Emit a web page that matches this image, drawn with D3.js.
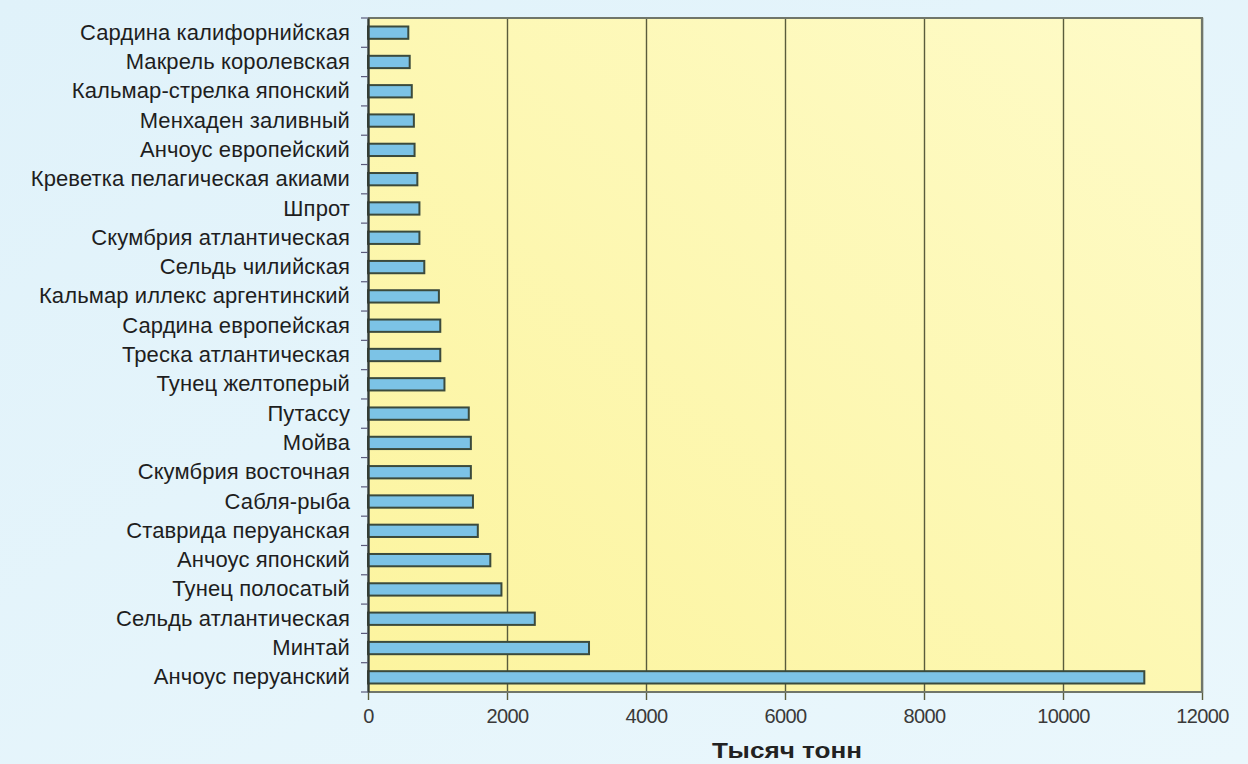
<!DOCTYPE html>
<html><head><meta charset="utf-8">
<script src="https://cdn.jsdelivr.net/npm/d3@7"></script>
<style>
html,body{margin:0;padding:0;background:#e6f5fc;}
svg{display:block;}
</style></head>
<body>
<svg id="chart" width="1248" height="764"></svg>
<script>
const categories = [
  "Сардина калифорнийская","Макрель королевская","Кальмар-стрелка японский","Менхаден заливный",
  "Анчоус европейский","Креветка пелагическая акиами","Шпрот","Скумбрия атлантическая",
  "Сельдь чилийская","Кальмар иллекс аргентинский","Сардина европейская","Треска атлантическая",
  "Тунец желтоперый","Путассу","Мойва","Скумбрия восточная","Сабля-рыба","Ставрида перуанская",
  "Анчоус японский","Тунец полосатый","Сельдь атлантическая","Минтай","Анчоус перуанский"
];
const values = [580,600,630,660,670,710,740,740,810,1020,1040,1040,1100,1450,1480,1480,1510,1580,1760,1920,2400,3180,11170];
const xTicks = [0,2000,4000,6000,8000,10000,12000];
const xTitle = "Тысяч тонн";

const svg = d3.select("#chart");
const W = 1248, H = 764;
const m = {left:368, right:1202, top:18, bottom:692};
const FONT = "Liberation Sans, Arial, sans-serif";

const defs = svg.append("defs");
const bg = defs.append("linearGradient").attr("id","bg").attr("x1","0").attr("y1","0").attr("x2","1").attr("y2","1");
bg.append("stop").attr("offset","0%").attr("stop-color","#e0f2fa");
bg.append("stop").attr("offset","100%").attr("stop-color","#eaf7fc");
svg.append("rect").attr("width",W).attr("height",H).attr("fill","url(#bg)");
const pg = defs.append("linearGradient").attr("id","pg").attr("x1","0").attr("y1","1").attr("x2","1").attr("y2","0");
pg.append("stop").attr("offset","0%").attr("stop-color","#fcf49e");
pg.append("stop").attr("offset","100%").attr("stop-color","#fefbc8");

const x = d3.scaleLinear().domain([0,12000]).range([m.left,m.right]);
const y = d3.scaleBand().domain(categories).range([m.top,m.bottom]).paddingInner(0.58).paddingOuter(0.29);
const yb = d3.scaleBand().domain(categories).range([m.top,m.bottom]);

svg.append("rect").attr("x",m.left).attr("y",m.top).attr("width",m.right-m.left).attr("height",m.bottom-m.top)
  .attr("fill","url(#pg)");

const xAxis = d3.axisBottom(x).tickValues(xTicks).tickSize(m.bottom-m.top+8).tickFormat(d3.format("d"));
const gx = svg.append("g").attr("transform",`translate(0,${m.top})`).call(xAxis);
gx.select(".domain").remove();
gx.selectAll(".tick line").attr("stroke","#5a5c3c").attr("stroke-width",1.4);
gx.selectAll(".tick text").attr("y",m.bottom-m.top+17).attr("font-family",FONT)
  .attr("font-size",20).attr("letter-spacing",-0.6).attr("fill","#3a3a3a");
gx.selectAll(".tick").filter(d=>d===0).select("line").attr("y1",m.bottom-m.top);

svg.append("path").attr("d",`M${m.left},${m.top}H${m.right}V${m.bottom}H${m.left}`)
  .attr("fill","none").attr("stroke","#70766a").attr("stroke-width",2.2);

svg.append("g").selectAll("rect").data(categories).join("rect")
  .attr("x",x(0)).attr("y",d=>y(d)).attr("height",y.bandwidth())
  .attr("width",(d,i)=>x(values[i])-x(0))
  .attr("fill","#7cc3e6").attr("stroke","#3b4a3c").attr("stroke-width",2);

const yAxis = d3.axisLeft(yb).tickSize(0).tickPadding(18);
const gy = svg.append("g").attr("transform",`translate(${m.left},0)`).call(yAxis);
gy.select(".domain").attr("stroke","#333a33").attr("stroke-width",2.4);
gy.selectAll(".tick text").attr("font-family",FONT).attr("font-size",22).attr("letter-spacing",0.1).attr("fill","#1e1e1e");
const bounds = categories.map(c=>yb(c)).concat([m.bottom]);
svg.append("g").selectAll("line").data(bounds).join("line")
  .attr("x1",m.left-7).attr("x2",m.left).attr("y1",d=>d).attr("y2",d=>d)
  .attr("stroke","#5a5a7a").attr("stroke-width",1.2);

svg.append("text").attr("x",787).attr("y",758).attr("text-anchor","middle")
  .attr("font-family",FONT).attr("font-weight","bold").attr("font-size",22)
  .attr("textLength",150).attr("lengthAdjust","spacingAndGlyphs")
  .attr("fill","#222").text(xTitle);
</script>
</body></html>
